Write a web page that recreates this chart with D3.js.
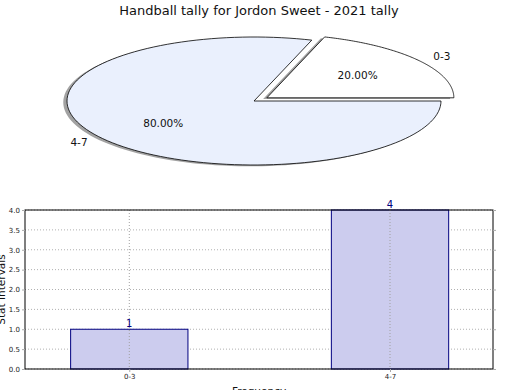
<!DOCTYPE html>
<html><head><meta charset="utf-8">
<script src="https://cdn.jsdelivr.net/npm/d3@7"></script>
<style>body{margin:0;background:#fff}svg{display:block;font-family:"DejaVu Sans",sans-serif}</style>
</head><body>
<script>
const categories = ["0-3", "4-7"];
const counts = [1, 4];
const yTicks = [0.0, 0.5, 1.0, 1.5, 2.0, 2.5, 3.0, 3.5, 4.0];
const pieColors = ["#ffffff", "#eaf0fd"];
const explode = [0.085, 0];
const title = "Handball tally for Jordon Sweet - 2021 tally";

const W = 520, H = 390;
const svg = d3.select("body").append("svg").attr("width", W).attr("height", H);

svg.append("text").attr("x", 259).attr("y", 15).attr("text-anchor", "middle")
  .attr("font-size", 13).attr("fill", "#111").text(title);

// ---- Pie (elliptical) ----
const cx = 254, cy = 101, rx = 187, ry = 64;
const total = d3.sum(counts);
const sx = d3.scaleLinear().domain([-1, 1]).range([cx - rx, cx + rx]);
const sy = d3.scaleLinear().domain([-1, 1]).range([cy + ry, cy - ry]);
let ang = 0;
const wedges = counts.map((v, i) => {
  const a0 = ang, a1 = ang + v / total * 2 * Math.PI; ang = a1;
  return {i, v, a0, a1, mid: (a0 + a1) / 2};
});
function wedgePath(w, ox, oy) {
  const n = 120, pts = [[ox, oy]];
  for (let k = 0; k <= n; k++) {
    const a = w.a0 + (w.a1 - w.a0) * k / n;
    pts.push([ox + Math.cos(a), oy + Math.sin(a)]);
  }
  return "M" + pts.map(p => sx(p[0]).toFixed(2) + "," + sy(p[1]).toFixed(2)).join("L") + "Z";
}
const pg = svg.append("g");
wedges.forEach(w => {
  const ox = explode[w.i] * Math.cos(w.mid), oy = explode[w.i] * Math.sin(w.mid);
  pg.append("path").attr("d", wedgePath(w, ox - 0.02, oy - 0.02))
    .attr("fill", "#555").attr("opacity", 0.55).attr("stroke", "none");
  w.ox = ox; w.oy = oy;
});
wedges.forEach(w => {
  pg.append("path").attr("d", wedgePath(w, w.ox, w.oy))
    .attr("fill", pieColors[w.i]).attr("stroke", "#000").attr("stroke-width", 0.8);
  const lx = w.ox + 1.1 * Math.cos(w.mid), ly = w.oy + 1.1 * Math.sin(w.mid);
  pg.append("text").attr("x", sx(lx)).attr("y", sy(ly)).attr("dy", "0.35em")
    .attr("text-anchor", Math.cos(w.mid) >= 0 ? "start" : "end")
    .attr("font-size", 10.5).attr("fill", "#111").text(categories[w.i]);
  const px = w.ox + 0.6 * Math.cos(w.mid), py = w.oy + 0.6 * Math.sin(w.mid);
  pg.append("text").attr("x", sx(px)).attr("y", sy(py)).attr("dy", "0.35em")
    .attr("text-anchor", "middle").attr("font-size", 10.5).attr("fill", "#111")
    .text((w.v / total * 100).toFixed(2) + "%");
});

// ---- Bar chart ----
const L = 25, R = 493, T = 210, B = 369;
const x = d3.scaleLinear().domain([-0.4, 1.395]).range([L, R]);
const y = d3.scaleLinear().domain([0, 4]).range([B, T]);
const bg = svg.append("g");
const bw = 0.45;
// grid
yTicks.forEach(t => {
  bg.append("line").attr("x1", L).attr("x2", R).attr("y1", y(t)).attr("y2", y(t))
    .attr("stroke", "#b0b0b0").attr("stroke-dasharray", "1,2").attr("stroke-width", 1);
});
categories.forEach((c, i) => {
  bg.append("rect").attr("x", x(i - bw / 2)).attr("y", y(counts[i]))
    .attr("width", x(i + bw / 2) - x(i - bw / 2)).attr("height", y(0) - y(counts[i]))
    .attr("fill", "#ccccee").attr("stroke", "#000080").attr("stroke-width", 1);
});
categories.forEach((c, i) => {
  bg.append("line").attr("x1", x(i)).attr("x2", x(i)).attr("y1", T).attr("y2", B)
    .attr("stroke", "#a0a0a0").attr("stroke-dasharray", "1,2").attr("stroke-width", 1);
  bg.append("text").attr("x", x(i)).attr("y", y(counts[i]) - 2).attr("text-anchor", "middle")
    .attr("font-size", 10).attr("fill", "#000080").text(counts[i]);
});
bg.append("rect").attr("x", L).attr("y", T).attr("width", R - L).attr("height", B - T)
  .attr("fill", "none").attr("stroke", "#000").attr("stroke-width", 1);
// axes
const yAxis = d3.axisLeft(y).tickValues(yTicks).tickFormat(d3.format(".1f")).tickSize(3).tickPadding(2);
const ya = bg.append("g").attr("transform", `translate(${L},0)`).call(yAxis);
const yAxisR = d3.axisRight(y).tickValues(yTicks).tickFormat("").tickSize(3);
const yr = bg.append("g").attr("transform", `translate(${R},0)`).call(yAxisR);
const xAxis = d3.axisBottom(x).tickValues([0, 1]).tickFormat((d) => categories[d]).tickSize(3).tickPadding(2);
const xa = bg.append("g").attr("transform", `translate(0,${B})`).call(xAxis);
[ya, yr, xa].forEach(g => {
  g.select(".domain").remove();
  g.selectAll(".tick line").attr("stroke", "#aaa");
  g.selectAll("text").attr("font-size", 7).attr("fill", "#222").attr("font-family", "DejaVu Sans");
});
svg.append("text").attr("transform", `translate(5,${(T + B) / 2}) rotate(-90)`)
  .attr("text-anchor", "middle").attr("font-size", 10.5).attr("fill", "#111").text("Stat Intervals");
svg.append("text").attr("x", 259).attr("y", 395).attr("text-anchor", "middle")
  .attr("font-size", 10.5).attr("fill", "#111").text("Frequency");
</script>
</body></html>
